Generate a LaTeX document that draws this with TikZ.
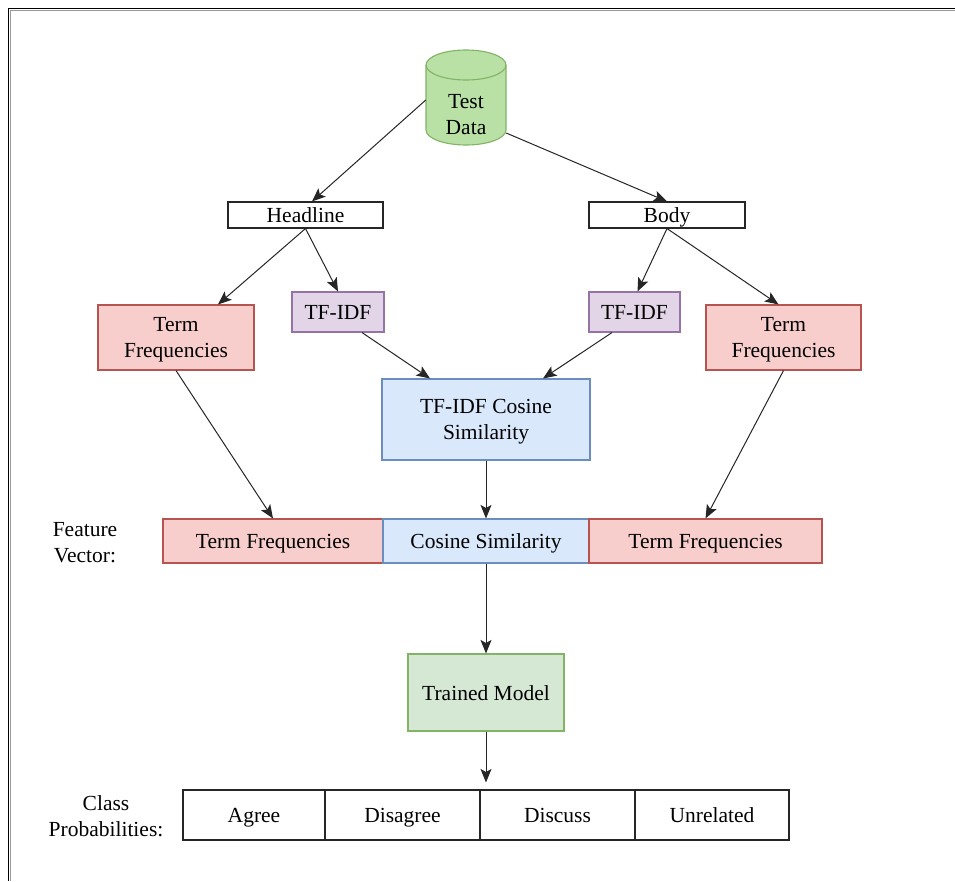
\documentclass[tikz,border=0pt]{standalone}
\usepackage{fontspec}
\setmainfont{Liberation Serif}
\usetikzlibrary{arrows.meta}

\definecolor{redfill}{HTML}{F8CECC}
\definecolor{redline}{HTML}{B85450}
\definecolor{bluefill}{HTML}{DAE8FC}
\definecolor{blueline}{HTML}{6C8EBF}
\definecolor{purplefill}{HTML}{E1D5E7}
\definecolor{purpleline}{HTML}{9673A6}
\definecolor{greenfill}{HTML}{D5E8D4}
\definecolor{greenline}{HTML}{82B366}
\definecolor{dbfill}{HTML}{B9E0A5}

\tikzset{
  box/.style={draw, line width=1.1pt, inner sep=0pt, align=center,
    font=\fontsize{21.5}{26}\selectfont},
  oneline/.style={text height=17pt, text depth=2pt},
  twoline/.style={text depth=1pt},
  plainbox/.style={box, draw=black!85, fill=white},
  redbox/.style={box, draw=redline, fill=redfill},
  bluebox/.style={box, draw=blueline, fill=bluefill},
  purplebox/.style={box, draw=purpleline, fill=purplefill},
  greenbox/.style={box, draw=greenline, fill=greenfill},
  label/.style={align=center, inner sep=0pt, font=\fontsize{21.5}{26}\selectfont},
  link/.style={draw=black!85, line width=1pt,
    -{Stealth[length=13.5pt, width=11pt, inset=3pt]}}
}

\begin{document}
\begin{tikzpicture}[x=1pt, y=-1pt]
  \useasboundingbox (0,0) rectangle (955,881);
  \fill[white] (0,0) rectangle (955,881);

  % outer frame (top and left edges)
  \draw[black!40, line width=1pt] (10,881) -- (10,10) -- (955,10);
  \draw[black, line width=1.5pt] (8.5,881) -- (8.5,8.5) -- (955,8.5);

  % database cylinder
  \filldraw[fill=dbfill, draw=greenline, line width=1.1pt]
    (426,65) -- (426,130) arc[start angle=180, end angle=360, x radius=40, y radius=-15]
    -- (506,65) arc[start angle=0, end angle=180, x radius=40, y radius=-15] -- cycle;
  \draw[greenline, line width=1.1pt]
    (426,65) arc[start angle=180, end angle=360, x radius=40, y radius=-15];
  \node[label, minimum width=80pt, minimum height=95pt] (db) at (466,115) {Test\\Data};

  % text fields
  \node[plainbox, oneline, minimum width=155pt, minimum height=26pt] (hl) at (305.5,215) {Headline};
  \node[plainbox, oneline, minimum width=156pt, minimum height=26pt] (bd) at (667,215) {Body};

  % per-field features
  \node[redbox, twoline, minimum width=156pt, minimum height=65pt] (tfl) at (176,337.5) {Term\\Frequencies};
  \node[purplebox, oneline, minimum width=92pt, minimum height=40pt] (til) at (338,312) {TF-IDF};
  \node[purplebox, oneline, minimum width=91pt, minimum height=40pt] (tir) at (634.5,312) {TF-IDF};
  \node[redbox, twoline, minimum width=155pt, minimum height=65pt] (tfr) at (783.5,337.5) {Term\\Frequencies};

  \node[bluebox, twoline, minimum width=208pt, minimum height=81pt] (cos) at (486,419.5) {TF-IDF Cosine\\Similarity};

  % feature vector
  \node[label] (fvlab) at (85,543) {Feature\\Vector:};
  \node[redbox, oneline, minimum width=220pt, minimum height=44pt] (fv1) at (273,541) {Term Frequencies};
  \node[bluebox, oneline, minimum width=206pt, minimum height=44pt] (fv2) at (486,541) {Cosine Similarity};
  \node[redbox, oneline, minimum width=233pt, minimum height=44pt] (fv3) at (705.5,541) {Term Frequencies};

  % classifier
  \node[greenbox, oneline, minimum width=156pt, minimum height=77pt] (tm) at (486,692.5) {Trained Model};

  % output classes
  \node[label] (cplab) at (106,816) {Class\\Probabilities:};
  \node[plainbox, oneline, minimum width=142pt, minimum height=50pt] (c1) at (254,815) {Agree};
  \node[plainbox, oneline, minimum width=155pt, minimum height=50pt] (c2) at (402.5,815) {Disagree};
  \node[plainbox, oneline, minimum width=155pt, minimum height=50pt] (c3) at (557.5,815) {Discuss};
  \node[plainbox, oneline, minimum width=154pt, minimum height=50pt] (c4) at (712,815) {Unrelated};

  % connectors
  \draw[link] ([yshift=15pt]db.west) -- ([xshift=6.5pt]hl.north);
  \draw[link] ([yshift=-18pt]db.east) -- (bd.north);
  \draw[link] (hl.south) -- ([xshift=42pt]tfl.north);
  \draw[link] (hl.south) -- (til.north);
  \draw[link] (bd.south) -- ([xshift=3pt]tir.north);
  \draw[link] (bd.south) -- ([xshift=-5pt]tfr.north);
  \draw[link] ([xshift=24pt]til.south) -- ([xshift=-56pt]cos.north);
  \draw[link] ([xshift=-22.5pt]tir.south) -- ([xshift=57pt]cos.north);
  \draw[link] (tfl.south) -- (fv1.north);
  \draw[link] (tfr.south) -- (fv3.north);
  \draw[link] (cos.south) -- (fv2.north);
  \draw[link] (fv2.south) -- (tm.north);
  \draw[link, shorten >=7pt] (tm.south) -- (tm.south |- c3.north);
\end{tikzpicture}
\end{document}
